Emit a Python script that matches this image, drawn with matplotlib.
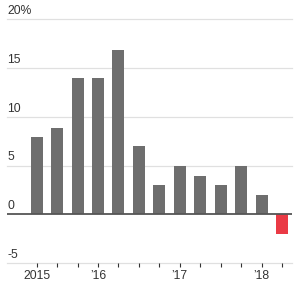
import matplotlib

matplotlib.use("Agg")

import matplotlib.pyplot as plt

# quarterly change, %
values = [7.9, 8.9, 14.0, 14.0, 16.9, 7.0, 3.0, 4.9, 3.9, 3.0, 4.9, 2.0, -2.0]
tick_labels = {0: "2015", 3: "\u201916", 7: "\u201917", 11: "\u201918"}
y_ticks = [-5, 0, 5, 10, 15, 20]
y_tick_labels = ["-5", "0", "5", "10", "15", "20%"]

GRAY = "#6e6e6e"
RED = "#ea3a45"

plt.rcParams["font.family"] = ["Liberation Sans", "DejaVu Sans"]

fig = plt.figure(figsize=(3.0, 2.89), dpi=100)
ax = fig.add_axes([7 / 300, 1 - 263 / 289, 285 / 300, (263 - 19.3) / 289])

x = list(range(len(values)))
colors = [RED if v < 0 else GRAY for v in values]
ax.bar(x, values, width=0.59, color=colors, zorder=3)

ax.set_xlim(-1.45, 12.49)
ax.set_ylim(-5, 20)

# сетка + подписи над линиями
for yv, lab in zip(y_ticks, y_tick_labels):
    if yv == 0:
        ax.axhline(0, color="#555555", lw=1.3, zorder=4)
    else:
        ax.axhline(yv, color="#e0e0e0", lw=0.9, zorder=1, clip_on=False)
    ax.annotate(lab, xy=(0, yv), xycoords=("axes fraction", "data"),
                xytext=(0, 1.5), textcoords="offset points",
                ha="left", va="bottom", fontsize=8.7, color="#333333")

ax.set_yticks([])
ax.set_xticks(x)
ax.set_xticklabels([tick_labels.get(i, "") for i in x], fontsize=8.7, color="#333333")
ax.tick_params(axis="x", length=3, width=0.8, color="#333333", pad=2)

for s in ax.spines.values():
    s.set_visible(False)

fig.savefig("out.png", dpi=100)
